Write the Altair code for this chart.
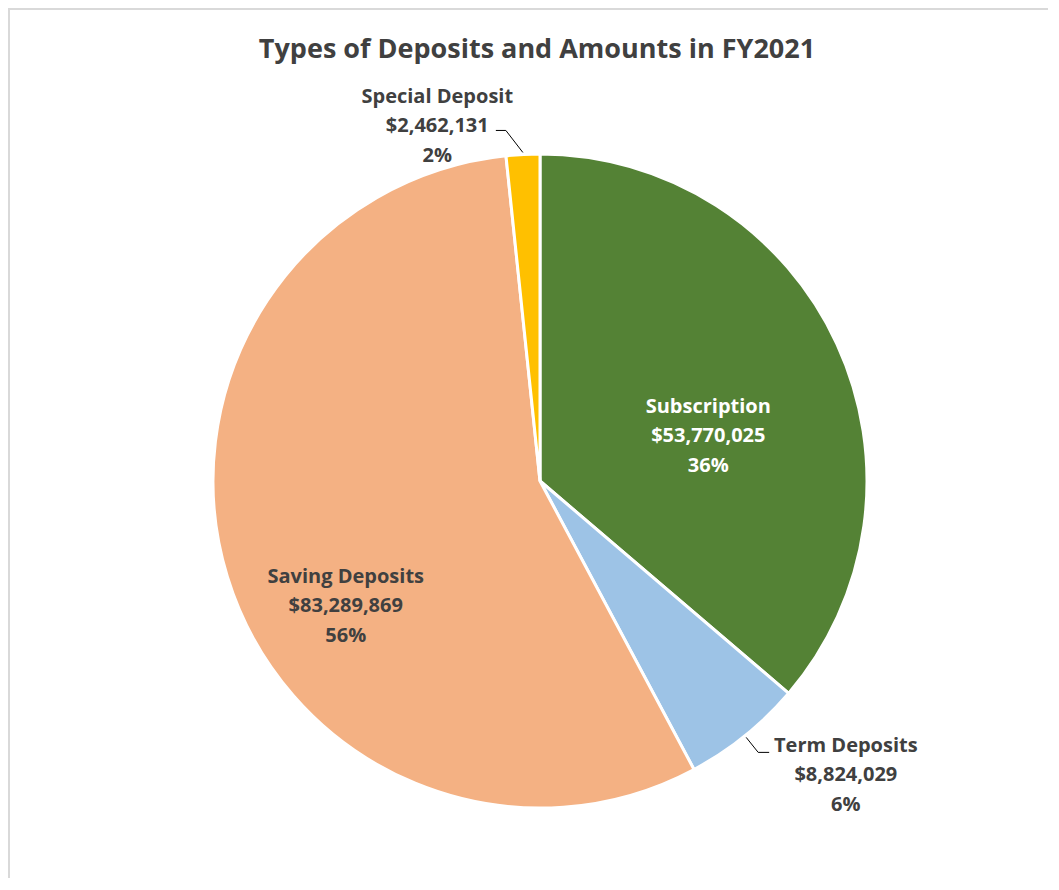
import altair as alt
import pandas as pd

categories = ["Subscription", "Term Deposits", "Saving Deposits", "Special Deposit"]
amounts = [53770025, 8824029, 83289869, 2462131]
amount_labels = ["$53,770,025", "$8,824,029", "$83,289,869", "$2,462,131"]
pct_labels = ["36%", "6%", "56%", "2%"]
colors = ["#548235", "#9DC3E6", "#F4B183", "#FFC000"]
title_text = "Types of Deposits and Amounts in FY2021"

df = pd.DataFrame({
    "category": categories,
    "amount": amounts,
    "amount_label": amount_labels,
    "pct": pct_labels,
    "order": list(range(len(categories))),
})

W, H = 1040, 870
CX, CY = 532, 473
R = 327
FONT = "Open Sans"
TXT = "#404040"
LH = 29.5

pie = alt.Chart(df).mark_arc(outerRadius=R, stroke="white", strokeWidth=3).encode(
    theta=alt.Theta("amount:Q", stack=True),
    order=alt.Order("order:Q"),
    color=alt.Color("category:N", scale=alt.Scale(domain=categories, range=colors), legend=None),
    x=alt.value(CX),
    y=alt.value(CY),
)


def geom(ch):
    return ch.transform_joinaggregate(total="sum(amount)").transform_window(
        cum="sum(amount)", sort=[alt.SortField("order")], frame=[None, 0]
    ).transform_calculate(
        mid="2*PI*(datum.cum - datum.amount/2)/datum.total"
    )


def label(cat, r, dx, dy, color):
    return geom(alt.Chart(df)).transform_filter(
        alt.datum.category == cat
    ).transform_calculate(
        lx=f"{CX} + {r}*sin(datum.mid)",
        ly=f"{CY} - {r}*cos(datum.mid)",
        lines="[datum.category, datum.amount_label, datum.pct]",
    ).mark_text(
        dx=dx, dy=dy - LH, font=FONT, fontSize=20, fontWeight="bold", color=color,
        lineHeight=LH, align="center", baseline="middle",
    ).encode(
        x=alt.X("lx:Q", scale=None, axis=None),
        y=alt.Y("ly:Q", scale=None, axis=None),
        text=alt.Text("lines:N"),
    )


def leader(cat, ex, ey, hx):
    rr = R + 2
    base = geom(alt.Chart(df)).transform_filter(
        alt.datum.category == cat
    ).transform_calculate(
        x0=f"{CX} + {rr}*sin(datum.mid)",
        y0=f"{CY} - {rr}*cos(datum.mid)",
    ).transform_calculate(
        x1=f"datum.x0 + {ex}",
        y1=f"datum.y0 + {ey}",
    ).transform_calculate(
        x2=f"datum.x1 + {hx}",
    )
    diag = base.mark_rule(color="#000000", strokeWidth=1).encode(
        x=alt.X("x0:Q", scale=None, axis=None), y=alt.Y("y0:Q", scale=None, axis=None),
        x2="x1:Q", y2="y1:Q",
    )
    horiz = base.mark_rule(color="#000000", strokeWidth=1).encode(
        x=alt.X("x1:Q", scale=None, axis=None), y=alt.Y("y1:Q", scale=None, axis=None),
        x2="x2:Q", y2="y1:Q",
    )
    return diag + horiz


one = pd.DataFrame({"t": [title_text]})
title = alt.Chart(one).mark_text(
    font=FONT, fontSize=27, fontWeight="bold", color=TXT, align="center", baseline="middle"
).encode(x=alt.value(529), y=alt.value(42), text="t:N")

border_left = alt.Chart(one).mark_rule(color="#D9D9D9", strokeWidth=2).encode(
    x=alt.value(1), y=alt.value(0), y2=alt.value(H)
)
border_top = alt.Chart(one).mark_rule(color="#D9D9D9", strokeWidth=2).encode(
    y=alt.value(1), x=alt.value(0), x2=alt.value(W)
)

chart = alt.layer(
    border_left, border_top, pie,
    leader("Special Deposit", -17, -22, -10),
    leader("Term Deposits", 12, 15, 11),
    label("Subscription", 171, 13, 27, "#FFFFFF"),
    label("Saving Deposits", 222, 18, 60, TXT),
    label("Term Deposits", 421, 42, -34, TXT),
    label("Special Deposit", 359, -84, 4, TXT),
    title,
).properties(
    width=W, height=H, padding=0, autosize=alt.AutoSizeParams(type="none")
).configure_view(stroke=None)

chart.save("out.html", embed_options={"renderer": "svg", "actions": False})
